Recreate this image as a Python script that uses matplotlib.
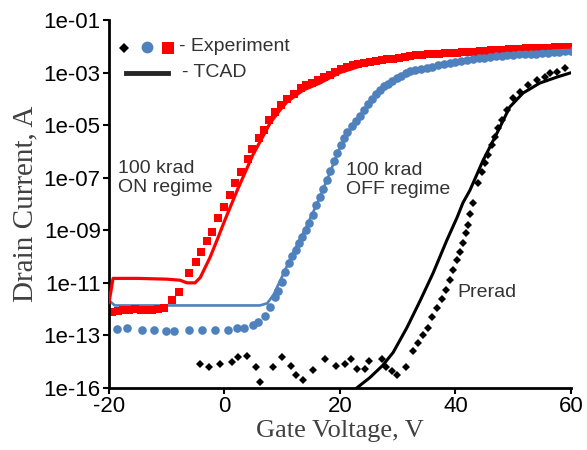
import numpy as np
import matplotlib.pyplot as plt
from matplotlib.ticker import FixedLocator, FixedFormatter, NullLocator

# gate voltage (V) and log10 of drain current (A)

# 100 krad ON regime - experiment (red squares)
on_exp_v = [-19.5, -18.5, -17.5, -16.5, -15.5, -14.5, -13.5, -12.5, -11.5, -10.5,
            -9.1, -7.9, -6.1, -4.9, -4.1, -3.1, -2.2, -1.1, -0.1, 0.9, 1.9, 2.9,
            4.0, 4.8, 5.9, 6.9, 7.7, 8.7, 9.8, 10.9, 12.0, 13.2, 14.2, 15.2, 16.2,
            17.2, 18.2, 19.2, 20.2, 21.2, 22.2, 23.2, 24.2, 25.2, 26.2, 27.2, 28.2,
            29.2, 30.2, 31.2, 32.2, 33.2, 34.2, 35.2, 36.2, 37.2, 38.2, 39.2, 40.2,
            41.2, 42.2, 43.2, 44.2, 45.2, 46.2, 47.2, 48.2, 49.2, 50.2, 51.2, 52.2,
            53.2, 54.2, 55.2, 56.2, 57.2, 58.2, 59.2, 60.0]
on_exp_log = [-12.1, -12.08, -12.05, -12.02, -12.0, -12.05, -12.05, -12.05, -12.0, -11.95,
              -11.67, -11.36, -10.64, -10.22, -9.84, -9.42, -9.05, -8.55, -8.1, -7.65, -7.2, -6.8,
              -6.3, -5.9, -5.5, -5.2, -4.8, -4.5, -4.25, -4.0, -3.8, -3.6, -3.48, -3.38, -3.28,
              -3.18, -3.08, -2.98, -2.88, -2.78, -2.72, -2.67, -2.63, -2.59, -2.55, -2.52, -2.5,
              -2.47, -2.44, -2.41, -2.38, -2.35, -2.33, -2.31, -2.3, -2.28, -2.27, -2.25, -2.24,
              -2.23, -2.21, -2.2, -2.18, -2.17, -2.16, -2.15, -2.13, -2.12, -2.1, -2.09, -2.08,
              -2.07, -2.06, -2.05, -2.05, -2.04, -2.03, -2.03, -2.02]

# 100 krad ON regime - TCAD (red line)
on_tcad_v = [-20, -19.3, -15, -10, -7.7, -6.5, -5.1, -4.2, -2.5, -1.1, 0.0, 2.2, 4.9,
             7.9, 9.6, 10.8, 13.6, 16.5, 20, 25, 30, 35, 40, 45, 50, 55, 60]
on_tcad_log = [-11.75, -10.83, -10.83, -10.86, -10.9, -11.0, -11.0, -10.8, -10.03, -9.27,
               -8.65, -7.48, -6.14, -4.92, -4.43, -4.12, -3.67, -3.4, -3.0, -2.65, -2.48,
               -2.36, -2.27, -2.19, -2.12, -2.07, -2.03]

# 100 krad OFF regime - experiment (blue circles)
off_exp_v = [-18.6, -16.9, -14.3, -12.2, -10.1, -8.7, -6.1, -3.9, -1.6, 0.6, 2.2, 3.4,
             4.9, 5.8, 7.0, 7.9, 8.7, 9.3, 9.9, 10.5, 11.1, 11.7, 12.3, 12.9, 13.5, 14.1,
             14.7, 15.3, 15.9, 16.5, 17.1, 17.7, 18.3, 18.9, 19.5, 20.1, 20.7, 21.3, 22.0,
             22.7, 23.4, 24.1, 24.8, 25.5, 26.2, 26.9, 27.6, 28.3, 29.0, 29.8, 30.6, 31.4,
             32.2, 33.0, 34, 35, 36, 37, 38, 39, 40, 41, 42, 43, 44, 45, 46, 47, 48, 49,
             50, 51, 52, 53, 54, 55, 56, 57, 58, 59, 60]
off_exp_log = [-12.77, -12.73, -12.81, -12.81, -12.85, -12.85, -12.81, -12.81, -12.81, -12.81,
               -12.73, -12.7, -12.62, -12.5, -12.28, -11.93, -11.55, -11.3, -10.95, -10.6,
               -10.25, -9.98, -9.75, -9.5, -9.25, -8.98, -8.72, -8.42, -8.05, -7.75, -7.42,
               -7.1, -6.75, -6.38, -6.05, -5.75, -5.5, -5.28, -5.05, -4.85, -4.65, -4.42, -4.2,
               -4.0, -3.82, -3.67, -3.53, -3.42, -3.32, -3.22, -3.12, -3.03, -2.95, -2.9,
               -2.85, -2.81, -2.77, -2.72, -2.67, -2.63, -2.6, -2.56, -2.52, -2.49, -2.46,
               -2.43, -2.41, -2.38, -2.36, -2.34, -2.33, -2.31, -2.3, -2.29, -2.28, -2.26,
               -2.25, -2.23, -2.21, -2.19, -2.18]

# 100 krad OFF regime - TCAD (blue line)
off_tcad_v = [-20, -19.0, -10, 0, 6.1, 7.4, 8.5, 10, 12, 14, 16, 18, 20, 22, 24, 26, 28,
              30, 35, 40, 45, 50, 55, 60]
off_tcad_log = [-11.67, -11.86, -11.86, -11.86, -11.86, -11.78, -11.45, -10.75, -9.8, -8.95,
                -8.0, -6.95, -5.85, -5.1, -4.5, -3.95, -3.5, -3.2, -2.8, -2.58, -2.43, -2.33,
                -2.25, -2.18]

# Prerad - experiment (black diamonds)
pre_exp_v = [-4.2, -2.7, -0.8, 1.3, 2.3, 3.9, 5.5, 6.1, 8.4, 10.0, 11.6, 12.4, 13.6,
             15.3, 17.4, 19.3, 20.9, 21.9, 22.9, 24.3, 25.0, 27.3, 28.0, 29.0, 29.9, 31.4,
             32.6, 33.5, 34.4, 35.2, 35.9, 36.8, 37.7, 38.4, 39.1, 39.6, 40.3, 40.8, 41.3,
             41.8, 42.2, 42.6, 43.0, 43.9, 44.6, 45.1, 45.6, 46.3, 46.8, 47.4, 48.1, 48.9,
             50.0, 51.2, 52.6, 54.1, 55.5, 56.4, 57.6, 59.0]
pre_exp_log = [-14.07, -14.22, -14.07, -14.03, -13.84, -13.8, -14.22, -14.79, -14.22, -13.84,
               -14.18, -14.52, -14.71, -14.3, -13.88, -14.18, -14.07, -13.91, -14.26, -14.26,
               -13.99, -13.88, -14.22, -14.37, -14.49, -14.22, -13.61, -13.3, -13.0, -12.7,
               -12.31, -11.97, -11.63, -11.29, -10.9, -10.52, -10.14, -9.84, -9.5, -9.11,
               -8.81, -8.4, -7.95, -7.2, -6.79, -6.45, -6.14, -5.76, -5.46, -5.11, -4.81,
               -4.43, -3.97, -3.74, -3.48, -3.29, -3.17, -3.02, -2.98, -2.83]

# Prerad - TCAD (black line)
pre_tcad_v = [22.9, 25.2, 27.4, 29.2, 31.6, 33.9, 36.1, 38.5, 40.3, 41.3, 42.5, 44.8,
              47.2, 49.4, 51.7, 54.6, 57.6, 59.8]
pre_tcad_log = [-15.0, -14.6, -14.14, -13.65, -12.7, -11.67, -10.64, -9.38, -8.5, -7.95,
                -7.48, -6.33, -5.3, -4.31, -3.78, -3.4, -3.17, -3.02]

ytick_vals = [1e-1, 1e-3, 1e-5, 1e-7, 1e-9, 1e-11, 1e-13, 1e-15]
ytick_labels = ['1e-01', '1e-03', '1e-05', '1e-07', '1e-09', '1e-11', '1e-13', '1e-16']
xtick_vals = [-20, 0, 20, 40, 60]

RED = '#FF0000'
BLUE = '#4F81BD'
TXT = '#333333'


def cur(logs):
    return 10.0 ** np.array(logs)


fig = plt.figure(figsize=(5.87, 4.5), dpi=100)
ax = fig.add_axes([0.1857, 0.1378, 0.7870, 0.8178])

ax.plot(on_exp_v, cur(on_exp_log), 's', color=RED, ms=6, mew=0, zorder=2)
ax.plot(off_exp_v, cur(off_exp_log), 'o', color=BLUE, ms=6.2, mew=0, zorder=2)
ax.plot(pre_exp_v, cur(pre_exp_log), 'D', color='black', ms=4.3, mew=0, zorder=2)

ax.plot(on_tcad_v, cur(on_tcad_log), '-', color=RED, lw=2.3, zorder=3)
ax.plot(off_tcad_v, cur(off_tcad_log), '-', color=BLUE, lw=1.9, zorder=1)
ax.plot(pre_tcad_v, cur(pre_tcad_log), '-', color='black', lw=2.2, zorder=3)

ax.set_yscale('log')
ax.set_xlim(-20, 60)
ax.set_ylim(1e-15, 1e-1)
ax.yaxis.set_major_locator(FixedLocator(ytick_vals))
ax.yaxis.set_major_formatter(FixedFormatter(ytick_labels))
ax.yaxis.set_minor_locator(NullLocator())
ax.set_xticks(xtick_vals)
ax.set_xticklabels([str(v) for v in xtick_vals])

for s in ['top', 'right']:
    ax.spines[s].set_visible(False)
for s in ['left', 'bottom']:
    ax.spines[s].set_linewidth(2)
ax.tick_params(axis='both', direction='out', length=4, width=1.5, labelsize=16,
               pad=2)
for lab in ax.get_xticklabels() + ax.get_yticklabels():
    lab.set_family('Liberation Sans')

ax.set_xlabel('Gate Voltage, V', family='Liberation Serif', fontsize=19,
              color='#404040', labelpad=2)
ax.set_ylabel('Drain Current, A', family='Liberation Serif', fontsize=21,
              color='#404040', labelpad=4)

# annotations
ax.text(-18.4, 1e-7, '100 krad\nON regime', family='Liberation Sans', fontsize=14,
        color=TXT, va='center', ha='left', linespacing=1.15)
ax.text(21.0, 10 ** -7.1, '100 krad\nOFF regime', family='Liberation Sans', fontsize=14,
        color=TXT, va='center', ha='left', linespacing=1.15)
ax.text(40.4, 10 ** -11.36, 'Prerad', family='Liberation Sans', fontsize=14,
        color=TXT, va='center', ha='left')

# hand-made legend
tr = ax.transAxes
ax.plot([0.033], [0.925], 'D', color='black', ms=5, mew=0, transform=tr, clip_on=False)
ax.plot([0.082], [0.927], 'o', color=BLUE, ms=8.5, mew=0, transform=tr, clip_on=False)
ax.plot([0.127], [0.925], 's', color=RED, ms=8, mew=0, transform=tr, clip_on=False)
ax.text(0.152, 0.927, '- Experiment', transform=tr, family='Liberation Sans',
        fontsize=14, color=TXT, va='center', ha='left')
ax.plot([0.037, 0.128], [0.856, 0.856], '-', color='#262626', lw=3.5, transform=tr,
        clip_on=False)
ax.text(0.158, 0.858, '- TCAD', transform=tr, family='Liberation Sans',
        fontsize=14, color=TXT, va='center', ha='left')

fig.savefig('out.png', dpi=100)
